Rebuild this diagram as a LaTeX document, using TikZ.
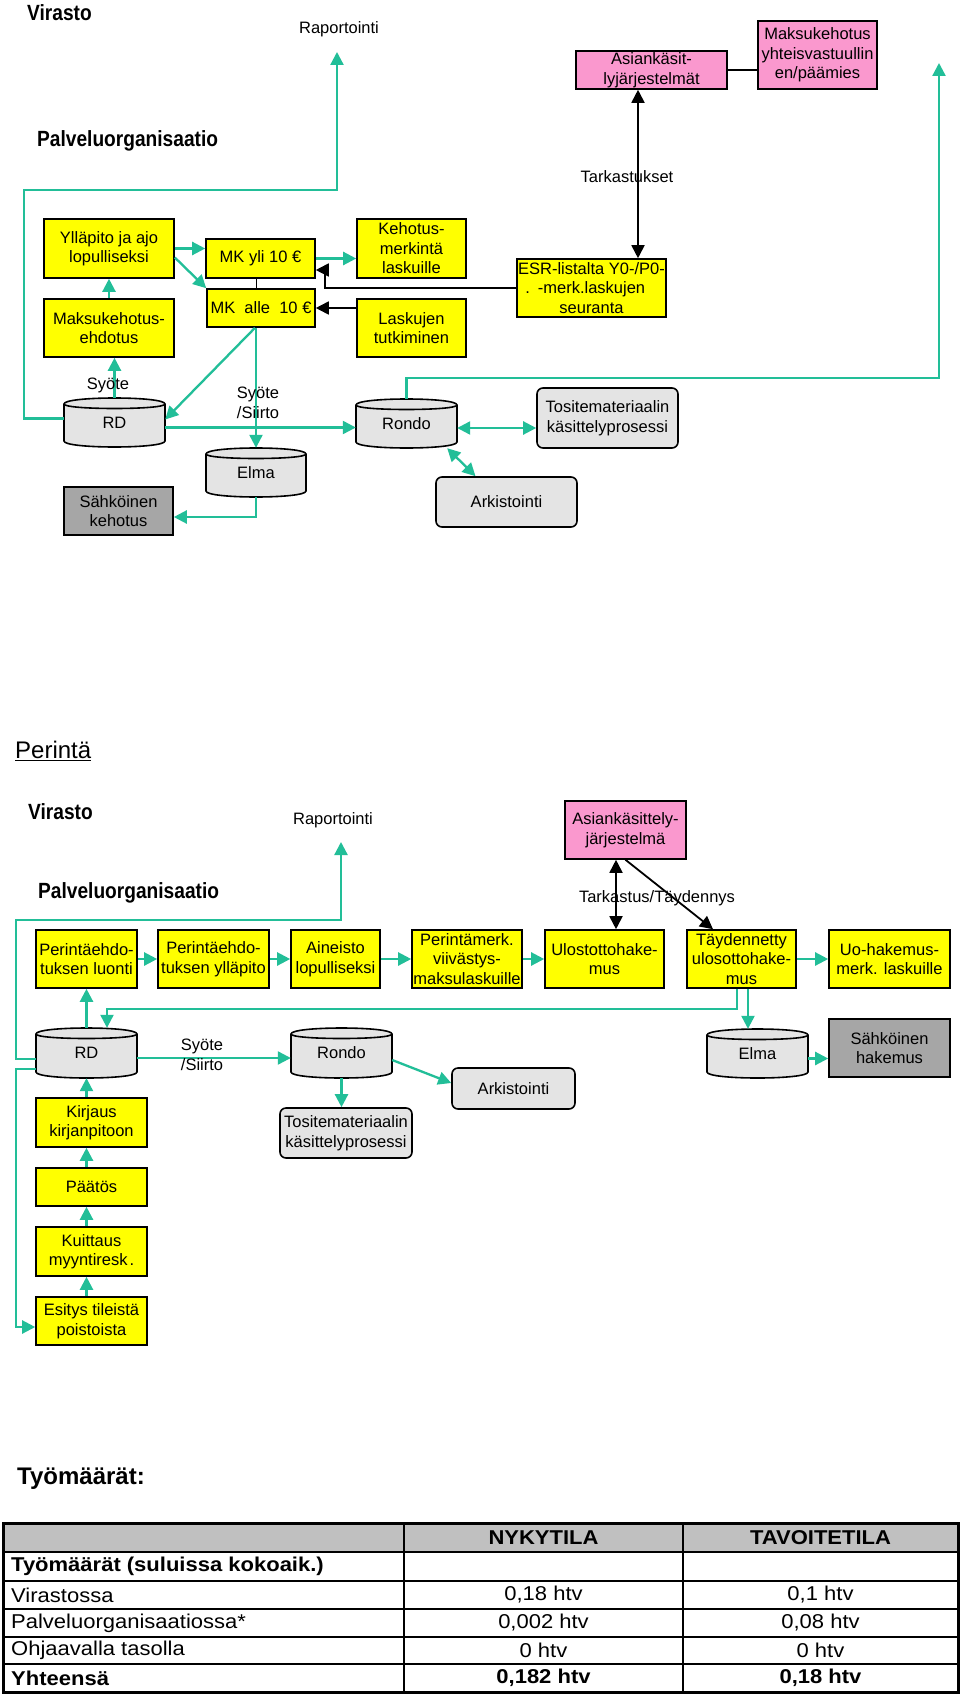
\documentclass[tikz,border=0pt]{standalone}
\usepackage{fontspec}
\setmainfont{Liberation Sans}
\newfontfamily\headfont[FakeStretch=0.87]{Liberation Sans}
\newfontfamily\tabfont[FakeStretch=1.1]{Liberation Sans}
\usetikzlibrary{arrows.meta}
\definecolor{gr}{RGB}{34,190,152}
\definecolor{yel}{RGB}{255,255,0}
\definecolor{pnk}{RGB}{250,152,206}
\definecolor{lgray}{RGB}{228,228,228}
\definecolor{dgray}{RGB}{166,166,166}
\definecolor{hdr}{RGB}{192,192,192}
\newcommand\bfnt{\fontsize{16.5}{19.5}\selectfont}
\newcommand\hfnt{\headfont\bfseries\fontsize{22}{24}\selectfont}
\newcommand\tfnt{\tabfont\fontsize{20}{22}\selectfont}
\newcommand\bx[7]{\node[#6, minimum width={(#4-#2)*1pt}, minimum height={(#5-#3)*1pt}] (#1) at ({(#2+#4)/2},{(#3+#5)/2}) {#7};}
\newcommand\cyl[6]{%
 \fill[lgray] (#2,{#3+6}) .. controls (#2,{#3-2}) and (#4,{#3-2}) .. (#4,{#3+6}) -- (#4,{#5-6}) .. controls (#4,{#5+2}) and (#2,{#5+2}) .. (#2,{#5-6}) -- cycle;
 \draw[line width=1.6pt] (#2,{#3+6}) .. controls (#2,{#3-2}) and (#4,{#3-2}) .. (#4,{#3+6}) -- (#4,{#5-6}) .. controls (#4,{#5+2}) and (#2,{#5+2}) .. (#2,{#5-6}) -- cycle;
 \draw[line width=1.6pt] (#2,{#3+6}) .. controls (#2,{#3+12}) and (#4,{#3+12}) .. (#4,{#3+6});
 \node[inner sep=0pt, font=\bfnt, minimum width={(#4-#2)*1pt}, minimum height={(#5-#3)*1pt}] (#1) at ({(#2+#4)/2},{(#3+#5)/2}) {\raisebox{-3pt}{#6}};}
\tikzset{
 yb/.style={draw, line width=1.6pt, fill=yel, inner sep=0pt, align=center, font=\bfnt},
 pb/.style={draw, line width=1.6pt, fill=pnk, inner sep=0pt, align=center, font=\bfnt},
 gb/.style={draw, line width=1.6pt, fill=lgray, rounded corners=6pt, inner sep=0pt, align=center, font=\bfnt},
 db/.style={draw, line width=1.6pt, fill=dgray, inner sep=0pt, align=center, font=\bfnt},
 lbl/.style={inner sep=0pt, align=center, font=\bfnt},
 garrow/.style={draw=gr, line width=2.3pt, -{Triangle[length=13pt,width=13pt]}},
 gdarrow/.style={draw=gr, line width=2.3pt, {Triangle[length=13pt,width=13pt]}-{Triangle[length=13pt,width=13pt]}},
 barrow/.style={draw=black, line width=1.8pt, -{Triangle[length=13pt,width=13pt]}},
 bdarrow/.style={draw=black, line width=1.8pt, {Triangle[length=13pt,width=13pt]}-{Triangle[length=13pt,width=13pt]}},
 bline/.style={draw=black, line width=1.8pt},
 tx/.style={inner sep=0pt, font=\tfnt},
}
\begin{document}
\begin{tikzpicture}[x=1pt,y=-1pt]
\useasboundingbox (0,0) rectangle (960,1696);
\fill[white] (0,0) rectangle (960,1696);

% ================= TOP SECTION =================
\node[anchor=west, inner sep=0pt, font=\hfnt] (vir1) at (27,13) {Virasto};
\node[lbl] (rap1) at (339,29) {Raportointi};
\node[anchor=west, inner sep=0pt, font=\hfnt] (palv1) at (37,141) {Palveluorganisaatio};
\coordinate (rapend1) at (337,52);
\coordinate (rtend) at (939,63);

\bx{yllapito}{44}{219}{174}{278}{yb}{Ylläpito ja ajo\\lopulliseksi}
\bx{maksuehd}{44}{299}{174}{357}{yb}{Maksukehotus-\\ehdotus}
\bx{mkyli}{206}{239}{315}{278}{yb}{MK yli 10 €}
\bx{mkalle}{207}{289}{315}{327}{yb}{MK\ \ alle\ \ 10 €}
\bx{kehotus}{357}{219}{466}{278}{yb}{Kehotus-\\merkintä\\laskuille}
\bx{laskujen}{357}{299}{466}{357}{yb}{Laskujen\\tutkiminen}
\bx{esr}{517}{259}{666}{317}{yb}{ESR-listalta Y0-/P0-\\\llap{.\hspace{8pt}}-merk.laskujen\\seuranta}
\bx{asiank}{576}{51}{727}{89}{pb}{Asiankäsit-\\lyjärjestelmät}
\bx{maksuyht}{758}{21}{877}{89}{pb}{Maksukehotus\\yhteisvastuullin\\en/päämies}

\cyl{rd1}{64}{398}{165}{447}{RD}
\cyl{elma1}{206}{448}{306}{497}{Elma}
\cyl{rondo1}{356}{399}{457}{448}{Rondo}
\bx{tosite1}{537}{388}{678}{448}{gb}{Tositemateriaalin\\käsittelyprosessi}
\bx{arkisto1}{436}{477}{577}{527}{gb}{Arkistointi}
\bx{sahko1}{64}{487}{173}{535}{db}{Sähköinen\\kehotus}

\draw[garrow] ([yshift=4pt]rd1.west) -| (24,190) -| (rapend1);
\draw[garrow] (rd1.north) -- (rd1.north |- maksuehd.south);
\draw[garrow] (maksuehd.north) -- (yllapito.south);
\draw[garrow] (yllapito.east) -- (yllapito.east -| mkyli.west);
\draw[garrow] ([yshift=-9pt]yllapito.east) -- (mkalle.north west);
\draw[garrow] (mkyli.east) -- (mkyli.east -| kehotus.west);
\draw[bline] ([xshift=-4pt]mkyli.south) -- ([xshift=-4pt]mkyli.south |- mkalle.north);
\draw[barrow] (laskujen.west |- mkalle.east) -- (mkalle.east);
\draw[barrow] (esr.west) -- (325,288) -- (325,270) -- (mkyli.east |- 0,270);
\draw[bdarrow] (asiank.south -| 638,0) -- (esr.north -| 638,0);
\draw[bline] (asiank.east) -- (asiank.east -| maksuyht.west);
\draw[garrow] (elma1.north |- mkalle.south) -- (elma1.north);
\draw[garrow] ([xshift=-1pt]elma1.north |- mkalle.south) -- ([yshift=3pt]rd1.east);
\draw[garrow] ([yshift=-5pt]rd1.east) -- ([yshift=-5pt]rd1.east -| rondo1.west);
\draw[gdarrow] ([yshift=-4.5pt]rondo1.east) -- ([yshift=-4.5pt]rondo1.east -| tosite1.west);
\draw[gdarrow] ([xshift=-10pt]rondo1.south east) -- ([xshift=-31pt]arkisto1.north);
\draw[garrow] (elma1.south) |- ([yshift=-6pt]sahko1.east);
\draw[garrow] (rondo1.north) |- (939,378) -- (rtend);

\node[lbl] (tark1) at (627,177) {Tarkastukset};
\node[lbl] (syote1) at (108,385) {Syöte};
\node[lbl] (syotes1) at (258,403) {Syöte\\/Siirto};

% ================= PERINTÄ =================
\node[anchor=west, inner sep=0pt, font=\fontsize{24}{26}\selectfont] (perinta) at (15,751) {\underline{Perintä}};
\node[anchor=west, inner sep=0pt, font=\hfnt] (vir2) at (28,812) {Virasto};
\node[lbl] (rap2) at (333,820) {Raportointi};
\node[anchor=west, inner sep=0pt, font=\hfnt] (palv2) at (38,893) {Palveluorganisaatio};
\coordinate (rapend2) at (341,842);

\bx{pl}{36}{930}{137}{988}{yb}{Perintäehdo-\\tuksen luonti}
\bx{py}{158}{930}{269}{988}{yb}{Perintäehdo-\\tuksen ylläpito}
\bx{ain}{291}{930}{380}{988}{yb}{Aineisto\\lopulliseksi}
\bx{pm}{412}{930}{522}{988}{yb}{Perintämerk.\\viivästys-\\maksulaskuille}
\bx{ulo}{545}{930}{664}{988}{yb}{Ulostottohake-\\mus}
\bx{tay}{687}{930}{796}{988}{yb}{Täydennetty\\ulosottohake-\\mus}
\bx{uoh}{829}{930}{950}{988}{yb}{Uo-hakemus-\\merk. laskuille}
\bx{asiank2}{565}{801}{686}{859}{pb}{Asiankäsittely-\\järjestelmä}

\cyl{rd2}{36}{1028}{137}{1078}{RD}
\cyl{rondo2}{291}{1028}{392}{1078}{Rondo}
\cyl{elma2}{707}{1029}{808}{1078}{Elma}
\bx{sahko2}{829}{1019}{950}{1077}{db}{Sähköinen\\hakemus}
\bx{arkisto2}{452}{1068}{575}{1109}{gb}{Arkistointi}
\bx{tosite2}{280}{1108}{412}{1158}{gb}{Tositemateriaalin\\käsittelyprosessi}

\bx{kirj}{36}{1098}{147}{1147}{yb}{Kirjaus\\kirjanpitoon}
\bx{paat}{36}{1168}{147}{1206}{yb}{Päätös}
\bx{kuit}{36}{1227}{147}{1276}{yb}{Kuittaus\\myyntiresk\hspace{2pt}.}
\bx{esit}{36}{1297}{147}{1345}{yb}{Esitys tileistä\\poistoista}

\draw[garrow] (pl.east) -- (py.west);
\draw[garrow] (py.east) -- (ain.west);
\draw[garrow] (ain.east) -- (pm.west);
\draw[garrow] (pm.east) -- (ulo.west);
\draw[garrow] (tay.east) -- (uoh.west);
\draw[bdarrow] ([xshift=-9.5pt]asiank2.south) -- ([xshift=-9.5pt]asiank2.south |- ulo.north);
\draw[barrow] (asiank2.south) -- ([xshift=-28.5pt]tay.north);
\draw[garrow] ([xshift=6.5pt]tay.south) -- ([xshift=6.5pt]tay.south |- elma2.north);
\draw[garrow] ([xshift=-4.5pt]tay.south) |- (107,1009) -- (rd2.north -| 107,0);
\draw[garrow] ([yshift=-5pt]elma2.east) -- ([yshift=-5pt]elma2.east -| sahko2.west);
\draw[garrow] (rd2.north) -- (rd2.north |- pl.south);
\draw[garrow] ([yshift=-6pt]rd2.west) -| (16,920) -| (rapend2);
\draw[garrow] ([yshift=-16pt]rd2.west) -| (16,1327) -- ([yshift=-6pt]esit.west);
\draw[garrow] ([yshift=-5pt]rd2.east) -- ([yshift=-5pt]rd2.east -| rondo2.west);
\draw[garrow] ([yshift=-7pt]rondo2.east) -- ([yshift=5.5pt]arkisto2.west);
\draw[garrow] (rondo2.south) -- (rondo2.south |- tosite2.north);
\draw[garrow] (rd2.south |- kirj.north) -- (rd2.south);
\draw[garrow] (rd2.south |- paat.north) -- (rd2.south |- kirj.south);
\draw[garrow] (rd2.south |- kuit.north) -- (rd2.south |- paat.south);
\draw[garrow] (rd2.south |- esit.north) -- (rd2.south |- kuit.south);

\node[lbl] (tark2) at (657,898) {Tarkastus/Täydennys};
\node[lbl] (syotes2) at (202,1055) {Syöte\\/Siirto};

% ================= TABLE =================
\node[anchor=west, inner sep=0pt, font=\bfseries\fontsize{24}{26}\selectfont] (tyo) at (17,1479) {Työmäärät:};
\fill[hdr] (3,1523) rectangle (958,1552);
\draw[line width=1.3pt] (3,1552) -- (958,1552) (3,1581) -- (958,1581) (3,1609) -- (958,1609)
  (3,1637) -- (958,1637) (3,1664) -- (958,1664) (404,1523) -- (404,1692) (683,1523) -- (683,1692);
\draw[line width=3pt] (3,1523) rectangle (958,1692);
\node[tx, font=\tfnt\bfseries] (h2) at (543.5,1537.5) {NYKYTILA};
\node[tx, font=\tfnt\bfseries] (h3) at (820.5,1537.5) {TAVOITETILA};
\node[tx, anchor=west, font=\tfnt\bfseries] (r1) at (11,1566.5) {Työmäärät (suluissa kokoaik.)};
\node[tx, anchor=west] (r2) at (11,1595) {Virastossa};
\node[tx] (r2b) at (543.5,1595) {0,18 htv};
\node[tx] (r2c) at (820.5,1595) {0,1 htv};
\node[tx, anchor=west] (r3) at (11,1623) {Palveluorganisaatiossa*};
\node[tx] (r3b) at (543.5,1623) {0,002 htv};
\node[tx] (r3c) at (820.5,1623) {0,08 htv};
\node[tx, anchor=west] (r4) at (11,1650.5) {Ohjaavalla tasolla};
\node[tx] (r4b) at (543.5,1650.5) {0 htv};
\node[tx] (r4c) at (820.5,1650.5) {0 htv};
\node[tx, anchor=west, font=\tfnt\bfseries] (r5) at (11,1678) {Yhteensä};
\node[tx, font=\tfnt\bfseries] (r5b) at (543.5,1678) {0,182 htv};
\node[tx, font=\tfnt\bfseries] (r5c) at (820.5,1678) {0,18 htv};
\end{tikzpicture}
\end{document}
